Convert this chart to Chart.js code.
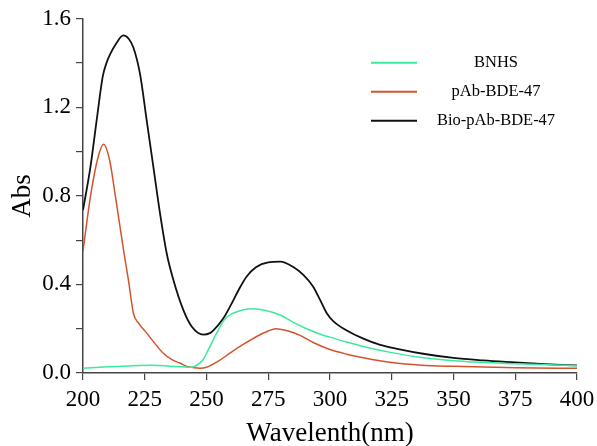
<!DOCTYPE html>
<html>
<head>
<meta charset="utf-8">
<script src="https://cdn.jsdelivr.net/npm/chart.js@4/dist/chart.umd.min.js"></script>
<style>
html,body{margin:0;padding:0;background:#fff;}
#wrap{width:597px;height:446px;}
</style>
</head>
<body>
<div id="wrap"><canvas id="c" width="597" height="446"></canvas></div>
<script>
const seriesLabels = ['BNHS', 'pAb-BDE-47', 'Bio-pAb-BDE-47'];
const seriesColors = ['#3cea9e', '#d4532f', '#111111'];

const bnhsX = [200, 210, 220, 228, 235, 240, 244, 246, 248.6, 250.5, 252.7, 254.7, 256.7, 258.5, 260.8, 265, 269, 274, 279.8, 285, 290.5, 297, 300, 306, 313.5, 325, 337, 350, 375, 400];
const bnhsY = [0.022, 0.028, 0.033, 0.035, 0.031, 0.028, 0.026, 0.035, 0.06, 0.10, 0.15, 0.193, 0.232, 0.255, 0.27, 0.286, 0.29, 0.282, 0.262, 0.23, 0.2, 0.172, 0.162, 0.142, 0.12, 0.092, 0.07, 0.055, 0.042, 0.033];

const pabX = [200, 203, 206, 208.3, 210.8, 213.3, 216.4, 218.4, 220.4, 222.5, 225.8, 229, 232.4, 236, 239.2, 242, 245, 247.4, 250, 255, 259.5, 265, 270.3, 275, 278, 282, 287.9, 293.2, 300, 306.8, 313.5, 325, 337, 350, 375, 400];
const pabY = [0.55, 0.796, 0.97, 1.033, 0.96, 0.785, 0.556, 0.42, 0.27, 0.225, 0.18, 0.135, 0.09, 0.06, 0.045, 0.03, 0.024, 0.022, 0.026, 0.055, 0.09, 0.13, 0.165, 0.19, 0.20, 0.193, 0.17, 0.138, 0.106, 0.085, 0.069, 0.047, 0.035, 0.03, 0.024, 0.021];

const bioX = [200, 203, 205.7, 208, 209.5, 211, 213.5, 216.3, 218.5, 220.4, 223.1, 225.8, 228.5, 231.2, 233.9, 236.6, 240.6, 244, 248.7, 251.4, 253, 256.7, 260, 263, 266.2, 270, 275, 279.8, 285, 289.2, 293.2, 296, 298.7, 301.4, 306.8, 313.5, 320, 327.7, 337.7, 350, 362, 375, 387, 400];
const bioY = [0.736, 0.93, 1.156, 1.34, 1.40, 1.44, 1.49, 1.525, 1.51, 1.47, 1.35, 1.14, 0.93, 0.72, 0.54, 0.42, 0.285, 0.21, 0.173, 0.18, 0.195, 0.245, 0.31, 0.375, 0.435, 0.478, 0.50, 0.503, 0.48, 0.443, 0.39, 0.33, 0.27, 0.233, 0.192, 0.155, 0.128, 0.108, 0.087, 0.068, 0.057, 0.048, 0.04, 0.034];

const xTicks = [200, 225, 250, 275, 300, 325, 350, 375, 400];
const yLabelTicks = [0.0, 0.4, 0.8, 1.2, 1.6];

const xs = [bnhsX, pabX, bioX];
const ys = [bnhsY, pabY, bioY];

const datasets = seriesLabels.map((lab, i) => ({
  label: lab,
  data: xs[i].map((x, k) => ({x: x, y: ys[i][k]})),
  borderColor: seriesColors[i],
  backgroundColor: seriesColors[i],
  borderWidth: i === 2 ? 1.8 : 1.5,
  pointRadius: 0,
  fill: false,
  cubicInterpolationMode: 'monotone'
}));

const serif = "'Liberation Serif', 'Times New Roman', serif";

const legendPlugin = {
  id: 'sideLegend',
  afterDraw(chart) {
    const ctx = chart.ctx;
    const ca = chart.chartArea;
    ctx.save();
    chart.data.datasets.forEach((ds, i) => {
      const y = ca.top + 44 + i * 29;
      ctx.strokeStyle = ds.borderColor;
      ctx.lineWidth = 2;
      ctx.beginPath();
      ctx.moveTo(ca.right - 206, y);
      ctx.lineTo(ca.right - 160, y);
      ctx.stroke();
      ctx.fillStyle = '#000';
      ctx.font = "16.5px " + serif;
      ctx.textAlign = 'center';
      ctx.textBaseline = 'middle';
      ctx.fillText(ds.label, ca.right - 81, y);
    });
    ctx.restore();
  }
};

new Chart(document.getElementById('c'), {
  type: 'line',
  data: { datasets: datasets },
  plugins: [legendPlugin],
  options: {
    responsive: false,
    animation: false,
    layout: { padding: { top: 18, right: 20, left: 0, bottom: 0 } },
    plugins: { legend: { display: false }, tooltip: { enabled: false } },
    scales: {
      x: {
        type: 'linear',
        min: 200, max: 400,
        afterBuildTicks(scale) { scale.ticks = xTicks.map(v => ({value: v})); },
        afterFit(scale) { scale.height = 73; scale.paddingRight = 16; scale.paddingLeft = 0; },
        border: { display: true, color: '#444', width: 1.5 },
        grid: { display: true, drawOnChartArea: false, drawTicks: true, tickLength: 7, color: '#444', lineWidth: 1.2 },
        ticks: { color: '#000', font: { family: serif, size: 23 }, padding: 6, maxRotation: 0, autoSkip: false },
        title: { display: true, text: 'Wavelenth(nm)', color: '#000', font: { family: serif, size: 27 }, padding: { top: 0, bottom: -4 } }
      },
      y: {
        type: 'linear',
        min: 0, max: 1.6,
        ticks: {
          stepSize: 0.2, color: '#000', font: { family: serif, size: 23 }, padding: 5, autoSkip: false,
          callback(v) {
            const hit = yLabelTicks.find(t => Math.abs(t - v) < 1e-6);
            return hit === undefined ? '' : hit.toFixed(1);
          }
        },
        afterFit(scale) { scale.width = 83; },
        border: { display: true, color: '#444', width: 1.5 },
        grid: { display: true, drawOnChartArea: false, drawTicks: true, tickLength: 7, color: '#444', lineWidth: 1.2 },
        title: { display: true, text: 'Abs', color: '#000', font: { family: serif, size: 27 }, padding: { top: 7, bottom: 4 } }
      }
    }
  }
});
</script>
</body>
</html>
